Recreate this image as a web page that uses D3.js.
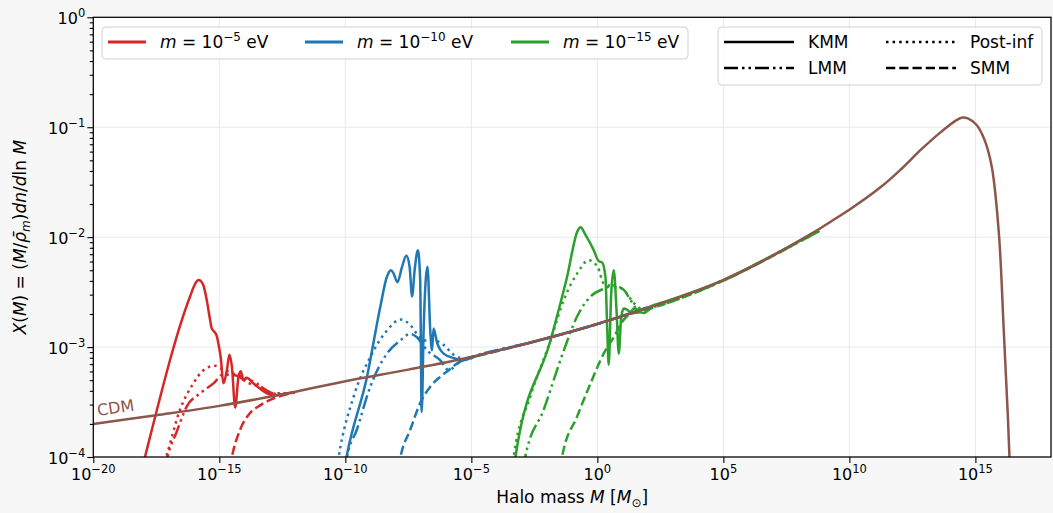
<!DOCTYPE html>
<html>
<head>
<meta charset="utf-8">
<script src="https://cdn.jsdelivr.net/npm/d3@7"></script>
<style>
  body { margin: 0; background: #f7f7f7; }
  svg text { font-family: "DejaVu Sans", sans-serif; }
</style>
</head>
<body>
<svg id="chart" width="1053" height="513"></svg>
<script>
// tick exponents
const xTickExps = [-20, -15, -10, -5, 0, 5, 10, 15];
const yTickExps = [-4, -3, -2, -1, 0];

// every curve is a list of [log10 M, log10 X]
const cdm = [
  [-20.0, -3.70], [-17.5, -3.62], [-15.0, -3.535], [-12.5, -3.43], [-10.0, -3.31],
  [-7.5, -3.205], [-5.0, -3.09], [-2.5, -2.95], [0.0, -2.79], [2.5, -2.605],
  [5.0, -2.39], [7.5, -2.10], [10.0, -1.75], [11.27, -1.54], [12.06, -1.38],
  [12.86, -1.20], [13.65, -1.04], [14.25, -0.935], [14.49, -0.912], [14.7, -0.92],
  [15.05, -0.98], [15.37, -1.12], [15.65, -1.36], [15.93, -1.96], [16.13, -2.87],
  [16.29, -3.64], [16.40, -4.3]
];

const redKMM = [
  [-18.06, -4.10], [-17.95, -4.00], [-16.16, -2.54], [-15.95, -2.42], [-15.83, -2.39],
  [-15.73, -2.40], [-15.63, -2.44], [-15.50, -2.57], [-15.39, -2.72], [-15.30, -2.83],
  [-15.20, -2.86], [-15.10, -2.90], [-15.02, -2.99], [-14.94, -3.10], [-14.84, -3.33],
  [-14.70, -3.21], [-14.60, -3.07], [-14.50, -3.18], [-14.37, -3.55], [-14.24, -3.27],
  [-14.15, -3.22], [-14.04, -3.30], [-13.91, -3.28], [-13.65, -3.33], [-13.11, -3.42],
  [-12.85, -3.44], [-12.32, -3.42], [-12.0, -3.41]
];
const redLMM = [
  [-17.16, -4.10], [-17.06, -4.00], [-16.69, -3.77], [-16.29, -3.54], [-15.76, -3.42],
  [-15.23, -3.33], [-14.84, -3.25], [-14.30, -3.26], [-13.91, -3.32], [-13.38, -3.36],
  [-12.85, -3.42], [-12.32, -3.42], [-12.0, -3.41]
];
const redPost = [
  [-17.25, -4.10], [-17.11, -4.00], [-16.56, -3.57], [-16.03, -3.33], [-15.63, -3.21],
  [-15.17, -3.17], [-14.97, -3.19], [-14.57, -3.23], [-13.98, -3.28], [-13.51, -3.33],
  [-13.11, -3.40], [-12.59, -3.43], [-12.0, -3.41]
];
const redSMM = [
  [-14.58, -4.10], [-14.50, -4.00], [-14.17, -3.75], [-13.78, -3.60], [-13.38, -3.53],
  [-12.98, -3.48], [-12.58, -3.445], [-12.06, -3.415]
];

const blueKMM = [
  [-10.03, -4.10], [-9.96, -4.01], [-9.14, -3.27], [-8.61, -2.63], [-8.35, -2.36],
  [-8.19, -2.30], [-8.09, -2.33], [-7.93, -2.41], [-7.75, -2.27], [-7.58, -2.17],
  [-7.45, -2.27], [-7.35, -2.54], [-7.25, -2.30], [-7.12, -2.12], [-7.03, -2.39],
  [-6.97, -3.59], [-6.89, -2.82], [-6.74, -2.27], [-6.63, -2.85], [-6.56, -3.03],
  [-6.50, -2.83], [-6.36, -2.96], [-6.10, -3.06], [-5.70, -3.10], [-5.31, -3.12],
  [-4.92, -3.09], [-2.5, -2.95], [0.0, -2.79], [2.0, -2.64]
];
const blueLMM = [
  [-10.0, -4.10], [-9.94, -4.01], [-9.54, -3.75], [-9.01, -3.36], [-8.35, -3.06],
  [-7.82, -2.94], [-7.42, -2.88], [-7.16, -2.91], [-6.76, -3.03], [-6.23, -3.12],
  [-5.90, -3.21], [-5.44, -3.13], [-5.04, -3.095], [-2.5, -2.95], [0.0, -2.79], [2.0, -2.64]
];
const bluePost = [
  [-10.33, -4.10], [-10.27, -4.01], [-9.67, -3.45], [-9.01, -3.09], [-8.35, -2.85],
  [-7.82, -2.75], [-7.42, -2.80], [-7.16, -2.88], [-6.89, -2.94], [-6.50, -2.94],
  [-6.10, -2.98], [-5.70, -3.07], [-5.17, -3.11], [-4.77, -3.08], [-2.5, -2.95],
  [0.0, -2.79], [2.0, -2.64]
];
const blueSMM = [
  [-7.89, -4.10], [-7.82, -4.01], [-7.42, -3.75], [-7.03, -3.51], [-6.63, -3.36],
  [-6.23, -3.27], [-5.90, -3.21], [-5.57, -3.15], [-5.17, -3.10], [-4.77, -3.08],
  [-2.5, -2.95], [0.0, -2.79], [2.0, -2.64]
];

const greenKMM = [
  [-3.29, -4.10], [-3.25, -4.00], [-1.86, -2.94], [-1.20, -2.36], [-0.78, -1.94],
  [-0.67, -1.91], [-0.47, -1.98], [-0.14, -2.12], [0.06, -2.22], [0.19, -2.23],
  [0.32, -2.36], [0.39, -2.82], [0.45, -3.16], [0.55, -2.51], [0.65, -2.30],
  [0.76, -2.66], [0.85, -3.06], [0.95, -2.72], [1.05, -2.65], [1.18, -2.66],
  [1.31, -2.68], [1.45, -2.65], [1.64, -2.66], [1.84, -2.66], [2.11, -2.63],
  [2.64, -2.59], [5.0, -2.39], [7.5, -2.10], [8.8, -1.94]
];
const greenLMM = [
  [-2.91, -4.10], [-2.86, -4.00], [-2.13, -3.57], [-1.33, -3.03], [-0.80, -2.72],
  [-0.27, -2.54], [0.25, -2.47], [0.65, -2.44], [1.05, -2.48], [1.31, -2.57],
  [1.58, -2.66], [1.84, -2.69], [2.11, -2.65], [2.64, -2.61], [5.0, -2.395],
  [7.5, -2.105], [8.8, -1.945]
];
const greenPost = [
  [-3.36, -4.10], [-3.32, -4.00], [-2.66, -3.45], [-1.86, -2.94], [-1.33, -2.57],
  [-0.80, -2.33], [-0.34, -2.21], [0.01, -2.27], [0.25, -2.42], [0.65, -2.45],
  [0.99, -2.47], [1.45, -2.60], [1.84, -2.66], [2.63, -2.60], [5.0, -2.39],
  [7.5, -2.10], [8.8, -1.94]
];
const greenSMM = [
  [-1.47, -4.10], [-1.40, -4.00], [-0.80, -3.63], [-0.27, -3.33], [0.25, -3.06],
  [0.65, -2.91], [1.05, -2.75], [1.45, -2.69], [1.84, -2.68], [2.11, -2.65],
  [2.64, -2.61], [5.0, -2.395], [7.5, -2.105], [8.8, -1.945]
];

const massExps = ["−5", "−10", "−15"];
const methods = ["KMM", "LMM", "Post-inf", "SMM"];

const colors = { red: "#d62728", blue: "#1f77b4", green: "#2ca02c", cdm: "#8c564b" };
const dashes = {
  "KMM": null,
  "LMM": "14,4,2.5,4,2.5,4",
  "Post-inf": "2.5,4.1",
  "SMM": "9.25,4"
};

const series = [
  { color: colors.red, method: "KMM", data: redKMM },
  { color: colors.red, method: "LMM", data: redLMM },
  { color: colors.red, method: "Post-inf", data: redPost },
  { color: colors.red, method: "SMM", data: redSMM },
  { color: colors.blue, method: "KMM", data: blueKMM },
  { color: colors.blue, method: "LMM", data: blueLMM },
  { color: colors.blue, method: "Post-inf", data: bluePost },
  { color: colors.blue, method: "SMM", data: blueSMM },
  { color: colors.green, method: "KMM", data: greenKMM },
  { color: colors.green, method: "LMM", data: greenLMM },
  { color: colors.green, method: "Post-inf", data: greenPost },
  { color: colors.green, method: "SMM", data: greenSMM }
];

const plot = { left: 93.3, right: 1051, top: 17.3, bottom: 457 };
const svg = d3.select("#chart");

const x = d3.scaleLog().domain([1e-20, 1e18]).range([plot.left, plot.right]);
const y = d3.scaleLog().domain([1e-4, 1]).range([plot.bottom, plot.top]);
const plotW = plot.right - plot.left;
const plotH = plot.bottom - plot.top;

svg.append("rect").attr("width", 1053).attr("height", 513).attr("fill", "#f7f7f7");
svg.append("rect")
  .attr("x", plot.left).attr("y", plot.top)
  .attr("width", plotW).attr("height", plotH)
  .attr("fill", "#ffffff");

// grid
const grid = svg.append("g").attr("stroke", "#e9e9e9").attr("stroke-width", 1);
xTickExps.forEach((e) => {
  grid.append("line").attr("x1", x(10 ** e)).attr("x2", x(10 ** e))
    .attr("y1", plot.top).attr("y2", plot.bottom);
});
yTickExps.forEach((e) => {
  grid.append("line").attr("x1", plot.left).attr("x2", plot.right)
    .attr("y1", y(10 ** e)).attr("y2", y(10 ** e));
});

svg.append("clipPath").attr("id", "plot-clip")
  .append("rect")
  .attr("x", plot.left).attr("y", plot.top)
  .attr("width", plotW).attr("height", plotH);

const line = d3.line()
  .x((d) => x(10 ** d[0]))
  .y((d) => y(10 ** d[1]))
  .curve(d3.curveMonotoneX);

const smoothLine = d3.line()
  .x((d) => x(10 ** d[0]))
  .y((d) => y(10 ** d[1]))
  .curve(d3.curveCatmullRom.alpha(0.5));

const curves = svg.append("g").attr("clip-path", "url(#plot-clip)");

curves.selectAll("path.model")
  .data(series)
  .join("path")
  .attr("class", "model")
  .attr("d", (s) => line(s.data))
  .attr("fill", "none")
  .attr("stroke", (s) => s.color)
  .attr("stroke-width", 2.5)
  .attr("stroke-dasharray", (s) => dashes[s.method]);

curves.append("path")
  .attr("d", smoothLine(cdm))
  .attr("fill", "none")
  .attr("stroke", colors.cdm)
  .attr("stroke-width", 2.5);

svg.append("text")
  .attr("transform", "translate(98,416) rotate(-8.6)")
  .attr("fill", colors.cdm)
  .attr("font-size", 16)
  .text("CDM");

// axes
const xAxis = svg.append("g")
  .attr("transform", `translate(0,${plot.bottom})`)
  .call(d3.axisBottom(x).tickValues(xTickExps.map((e) => 10 ** e)).tickSize(6).tickFormat(""));
const yMinor = [];
yTickExps.slice(0, -1).forEach((e) => {
  for (let k = 2; k <= 9; k++) yMinor.push(k * 10 ** e);
});
const yAxisMinor = svg.append("g")
  .attr("transform", `translate(${plot.left},0)`)
  .call(d3.axisLeft(y).tickValues(yMinor).tickSize(3.5).tickFormat(""));
const yAxis = svg.append("g")
  .attr("transform", `translate(${plot.left},0)`)
  .call(d3.axisLeft(y).tickValues(yTickExps.map((e) => 10 ** e)).tickSize(6).tickFormat(""));

[xAxis, yAxis, yAxisMinor].forEach((a) => {
  a.select(".domain").remove();
  a.selectAll("line").attr("stroke", "#000").attr("stroke-width", 1.1);
});

svg.append("rect")
  .attr("x", plot.left).attr("y", plot.top)
  .attr("width", plotW).attr("height", plotH)
  .attr("fill", "none").attr("stroke", "#000").attr("stroke-width", 1.25);

function powerLabel(textSel, exp) {
  textSel.append("tspan").text("10");
  textSel.append("tspan").attr("dy", -7).attr("font-size", 11.5)
    .text(exp < 0 ? "−" + (-exp) : String(exp));
}

xTickExps.forEach((e) => {
  const t = svg.append("text")
    .attr("x", x(10 ** e)).attr("y", plot.bottom + 23)
    .attr("text-anchor", "middle")
    .attr("font-size", 16).attr("fill", "#000");
  powerLabel(t, e);
});

yTickExps.forEach((e) => {
  const t = svg.append("text")
    .attr("x", plot.left - 8).attr("y", y(10 ** e) + 6.5)
    .attr("text-anchor", "end")
    .attr("font-size", 16).attr("fill", "#000");
  powerLabel(t, e);
});

// axis labels
const xl = svg.append("text")
  .attr("x", (plot.left + plot.right) / 2).attr("y", 503)
  .attr("text-anchor", "middle").attr("font-size", 17);
xl.append("tspan").text("Halo mass ");
xl.append("tspan").attr("font-style", "italic").text("M");
xl.append("tspan").text(" [");
xl.append("tspan").attr("font-style", "italic").text("M");
xl.append("tspan").attr("dy", 4).attr("font-size", 12).text("⊙");
xl.append("tspan").attr("dy", -4).text("]");

const yl = svg.append("text")
  .attr("transform", `translate(26,${(plot.top + plot.bottom) / 2}) rotate(-90)`)
  .attr("text-anchor", "middle").attr("font-size", 17);
yl.append("tspan").attr("font-style", "italic").text("X");
yl.append("tspan").text("(");
yl.append("tspan").attr("font-style", "italic").text("M");
yl.append("tspan").text(") = (");
yl.append("tspan").attr("font-style", "italic").text("M");
yl.append("tspan").text("/");
yl.append("tspan").attr("font-style", "italic").text("ρ\u0304");
yl.append("tspan").attr("font-style", "italic").attr("dy", 4).attr("font-size", 12).text("m");
yl.append("tspan").attr("dy", -4).text(")");
yl.append("tspan").attr("font-style", "italic").text("dn");
yl.append("tspan").text("/");
yl.append("tspan").attr("font-style", "italic").text("d");
yl.append("tspan").text("ln ");
yl.append("tspan").attr("font-style", "italic").text("M");

// legend: particle masses
const leg1 = svg.append("g");
leg1.append("rect")
  .attr("x", 102).attr("y", 27).attr("width", 586).attr("height", 32).attr("rx", 4)
  .attr("fill", "#fff").attr("fill-opacity", 0.85).attr("stroke", "#d0d0d0");
const leg1X = [108, 305, 511];
[colors.red, colors.blue, colors.green].forEach((c, i) => {
  const lx = leg1X[i];
  leg1.append("line").attr("x1", lx).attr("x2", lx + 38).attr("y1", 42).attr("y2", 42)
    .attr("stroke", c).attr("stroke-width", 3);
  const t = leg1.append("text").attr("x", lx + 52).attr("y", 48).attr("font-size", 17);
  t.append("tspan").attr("font-style", "italic").text("m");
  t.append("tspan").text(" = 10");
  t.append("tspan").attr("dy", -7).attr("font-size", 12).text(massExps[i]);
  t.append("tspan").attr("dy", 7).text(" eV");
});

// legend: methods
const leg2 = svg.append("g");
leg2.append("rect")
  .attr("x", 718).attr("y", 27).attr("width", 324).attr("height", 58).attr("rx", 4)
  .attr("fill", "#fff").attr("fill-opacity", 0.85).attr("stroke", "#d0d0d0");
const leg2Pos = {
  "KMM": [724, 42], "Post-inf": [886, 42], "LMM": [724, 68], "SMM": [886, 68]
};
methods.forEach((m) => {
  const [lx, ly] = leg2Pos[m];
  leg2.append("line").attr("x1", lx).attr("x2", lx + 70).attr("y1", ly).attr("y2", ly)
    .attr("stroke", "#000").attr("stroke-width", 2.5)
    .attr("stroke-dasharray", dashes[m]);
  leg2.append("text").attr("x", lx + 84).attr("y", ly + 6).attr("font-size", 17).text(m);
});
</script>
</body>
</html>
